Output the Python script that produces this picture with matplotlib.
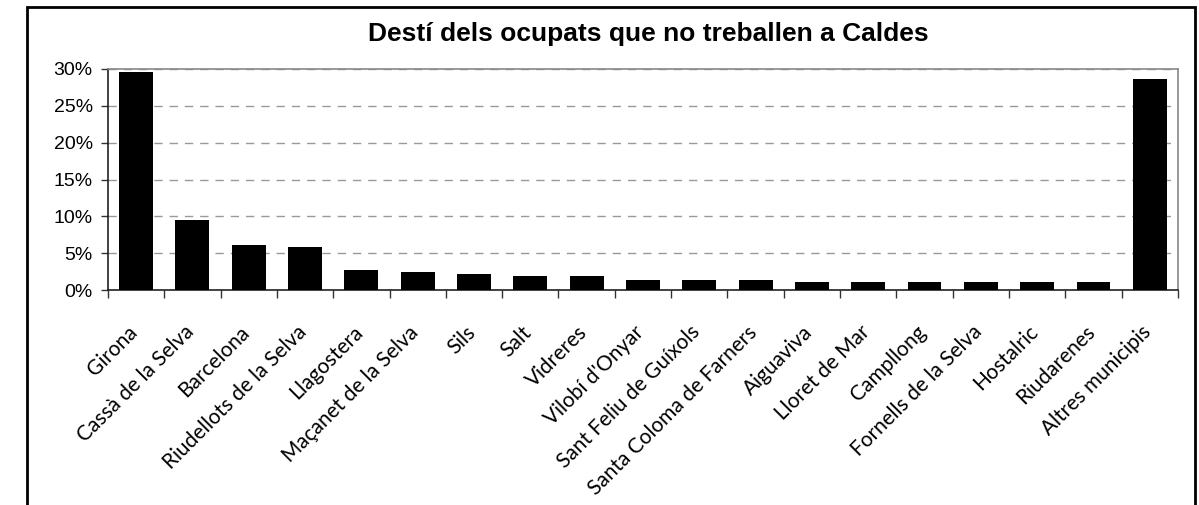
# --- Imports ---
import matplotlib
matplotlib.use('Agg')
import matplotlib.pyplot as plt
import matplotlib.transforms as mtransforms
from matplotlib.patches import Rectangle
from matplotlib.ticker import FuncFormatter

# --- Data ---
municipis = [
    "Girona", "Cassà de la Selva", "Barcelona", "Riudellots de la Selva",
    "Llagostera", "Maçanet de la Selva", "Sils", "Salt", "Vidreres",
    "Vilobí d'Onyar", "Sant Feliu de Guíxols", "Santa Coloma de Farners",
    "Aiguaviva", "Lloret de Mar", "Campllong", "Fornells de la Selva",
    "Hostalric", "Riudarenes", "Altres municipis",
]
percentatge = [29.6, 9.5, 6.1, 5.8, 2.7, 2.5, 2.2, 1.9, 1.9,
               1.4, 1.4, 1.4, 1.1, 1.1, 1.1, 1.1, 1.1, 1.1, 28.6]
y_ticks = [0, 5, 10, 15, 20, 25, 30]
title = "Destí dels ocupats que no treballen a Caldes"

# --- Figure ---
fig = plt.figure(figsize=(11.99, 5.05), dpi=100)
ax = fig.add_axes([0.090, 0.4257, 0.8925, 0.4377])

x = list(range(len(municipis)))
ax.bar(x, percentatge, width=0.6, color='black', zorder=3)

# y axis
ax.set_ylim(0, 30)
ax.set_yticks(y_ticks)
ax.yaxis.set_major_formatter(FuncFormatter(lambda v, p: f"{int(v)}%"))
ax.tick_params(axis='y', direction='out', length=5, width=1, color='#333333',
               labelsize=14, pad=6)
for lbl in ax.get_yticklabels():
    lbl.set_fontfamily('Liberation Sans')

# dashed grid lines
ax.yaxis.grid(True, linestyle=(0, (6, 5)), color='#999999', linewidth=1, zorder=0)

# x axis: labels at the centres, tick marks at category boundaries
ax.set_xlim(-0.5, len(municipis) - 0.5)
ax.set_xticks(x)
ax.set_xticklabels(municipis, rotation=45, ha='right', rotation_mode='anchor',
                   fontsize=15, fontfamily='Lato')
ax.tick_params(axis='x', which='major', length=0, pad=23)
ax.set_xticks([i - 0.5 for i in range(len(municipis) + 1)], minor=True)
ax.tick_params(axis='x', which='minor', direction='out', length=6, width=1,
               color='#333333')
shift = mtransforms.ScaledTranslation(-9 / 100, 0, fig.dpi_scale_trans)
for lbl in ax.get_xticklabels():
    lbl.set_transform(lbl.get_transform() + shift)

# plot area frame
ax.spines['left'].set_color('#222222')
ax.spines['bottom'].set_color('#222222')
ax.spines['top'].set_color('#888888')
ax.spines['right'].set_color('#888888')
for s in ax.spines.values():
    s.set_linewidth(1.2)

# title
fig.text(0.541, 0.933, title, ha='center', va='center', fontsize=19,
         fontweight='bold', fontfamily='Liberation Sans')

# outer chart-area border (cut off at the bottom like the reference)
fig.patches.append(Rectangle((27 / 1199, -0.1), (1195 - 27) / 1199, 1.1 - 7 / 505,
                             transform=fig.transFigure, fill=False,
                             edgecolor='black', linewidth=2))

fig.savefig('out.png', dpi=100)
